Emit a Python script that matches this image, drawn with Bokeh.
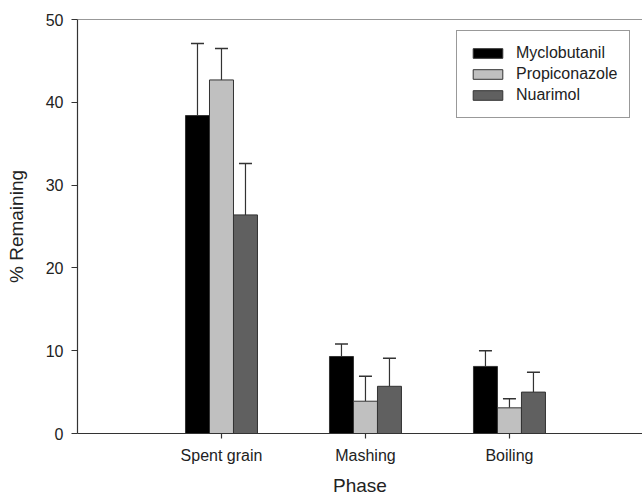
from bokeh.plotting import figure
from bokeh.models import (Range1d, FixedTicker, Whisker, TeeHead, ColumnDataSource,
                          Legend, LegendItem, Span)
from bokeh.embed import file_html
from bokeh.resources import INLINE

phases = ["Spent grain", "Mashing", "Boiling"]
series = ["Myclobutanil", "Propiconazole", "Nuarimol"]
myclobutanil = [38.4, 9.3, 8.1]
myclobutanil_err = [8.7, 1.5, 1.9]
propiconazole = [42.7, 3.9, 3.1]
propiconazole_err = [3.8, 3.0, 1.1]
nuarimol = [26.4, 5.7, 5.0]
nuarimol_err = [6.2, 3.4, 2.4]
y_ticks = [0, 10, 20, 30, 40, 50]

colors = ["#000000", "#c0c0c0", "#606060"]
offsets = [-1 / 6, 0.0, 1 / 6]
bar_w = 1 / 6
FONT = "Liberation Sans"
TXT = "#222222"
LN = "#333333"

p = figure(width=642, height=498, output_backend="svg", toolbar_location=None,
           x_range=Range1d(0, 3.924), y_range=Range1d(0, 50),
           min_border_left=77, min_border_right=0, min_border_top=19, min_border_bottom=65,
           border_fill_color="white")
p.outline_line_color = "white"
p.outline_line_alpha = 0
p.outline_line_width = 0
p.xgrid.grid_line_color = None
p.ygrid.grid_line_color = None
p.background_fill_color = "white"

items = []
for vals, errs, name, col, off in zip([myclobutanil, propiconazole, nuarimol],
                                      [myclobutanil_err, propiconazole_err, nuarimol_err],
                                      series, colors, offsets):
    xs = [i + 1 + off for i in range(len(phases))]
    src = ColumnDataSource(dict(x=xs, top=vals, upper=[v + e for v, e in zip(vals, errs)]))
    w = Whisker(source=src, base="x", lower="top", upper="upper", line_color=LN, line_width=1.2,
                lower_head=None, upper_head=TeeHead(size=13, line_color=LN, line_width=1.5))
    p.add_layout(w)
    r = p.vbar(x="x", top="top", width=bar_w, bottom=0, source=src,
               fill_color=col, line_color=LN, line_width=1)
    items.append(LegendItem(label=name, renderers=[r]))

p.add_layout(Span(location=50, dimension="width", line_color=LN, line_width=1.2))

legend = Legend(items=items, location=(379, 315), glyph_width=37, glyph_height=12,
                label_text_font=FONT, label_text_font_size="16px", label_text_color=TXT,
                label_standoff=10, padding=12, spacing=1, label_height=20,
                border_line_color=LN, border_line_width=1, background_fill_alpha=1,
                margin=0)
p.add_layout(legend, "center")

xa = p.xaxis[0]
xa.ticker = FixedTicker(ticks=[1, 2, 3])
xa.major_label_overrides = {1: "Spent grain", 2: "Mashing", 3: "Boiling"}
xa.minor_tick_line_color = None
xa.major_tick_out = 5
xa.major_tick_in = 0
xa.axis_label = "Phase"
xa.major_label_standoff = 8

ya = p.yaxis[0]
ya.ticker = FixedTicker(ticks=y_ticks)
ya.minor_tick_line_color = None
ya.major_tick_out = 6
ya.major_tick_in = 0
ya.axis_label = "% Remaining"
ya.major_label_standoff = 8

for ax in (xa, ya):
    ax.axis_line_color = LN
    ax.axis_line_width = 1.2
    ax.major_tick_line_color = LN
    ax.major_tick_line_width = 1.2
    ax.major_label_text_font = FONT
    ax.major_label_text_font_size = "16px"
    ax.major_label_text_color = TXT
    ax.axis_label_text_font = FONT
    ax.axis_label_text_font_size = "19px"
    ax.axis_label_text_font_style = "normal"
    ax.axis_label_text_color = TXT
xa.axis_label_standoff = 8
ya.axis_label_standoff = 16

open("out.html", "w").write(file_html(p, INLINE))
